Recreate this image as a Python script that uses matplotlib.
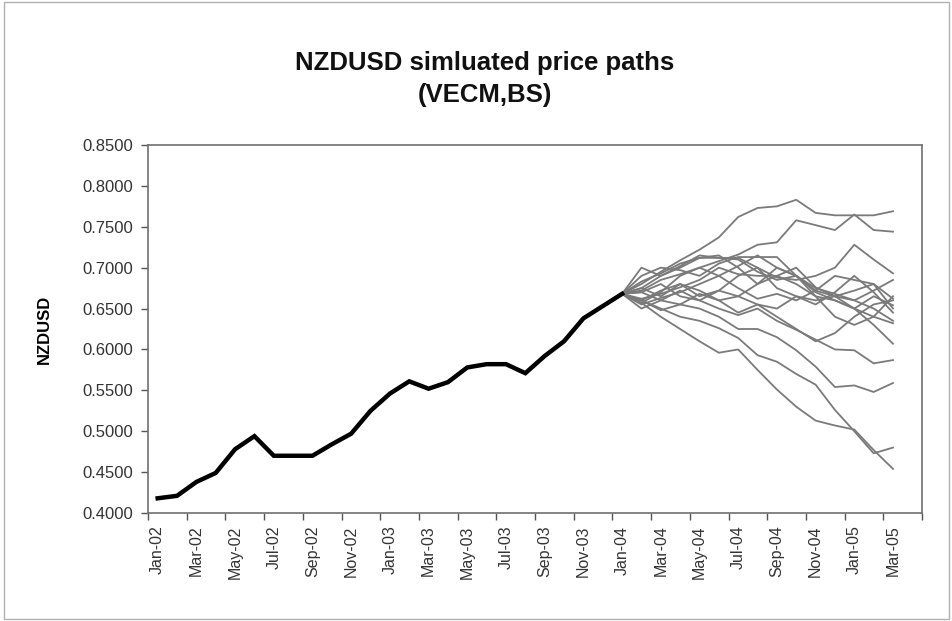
import numpy as np
import matplotlib
matplotlib.use("Agg")
import matplotlib.pyplot as plt
from matplotlib.patches import Rectangle

plt.rcParams['font.family'] = ['Liberation Sans', 'DejaVu Sans']

# month labels Jan-02 .. Apr-05 (last category is empty)
months = ['Jan', 'Feb', 'Mar', 'Apr', 'May', 'Jun', 'Jul', 'Aug', 'Sep', 'Oct', 'Nov', 'Dec']
categories = [m + '-' + y for y in ['02', '03', '04', '05'] for m in months][:40]

# actual NZDUSD, Jan-02 .. Jan-04
actual = [0.4180, 0.4210, 0.4380, 0.4490, 0.4780, 0.4940, 0.4700, 0.4700, 0.4700,
          0.4840, 0.4970, 0.5250, 0.5460, 0.5610, 0.5520, 0.5600, 0.5780, 0.5820,
          0.5820, 0.5710, 0.5920, 0.6100, 0.6380, 0.6530, 0.6680]

# simulated paths, Jan-04 .. Mar-05
sim_paths = [
    [0.668, 0.680, 0.695, 0.709, 0.722, 0.737, 0.762, 0.773, 0.775, 0.783, 0.767, 0.764, 0.764, 0.764, 0.769],
    [0.668, 0.672, 0.685, 0.692, 0.700, 0.708, 0.716, 0.728, 0.731, 0.758, 0.752, 0.746, 0.765, 0.746, 0.744],
    [0.668, 0.675, 0.690, 0.700, 0.712, 0.712, 0.712, 0.700, 0.688, 0.685, 0.690, 0.700, 0.728, 0.710, 0.693],
    [0.668, 0.690, 0.700, 0.697, 0.690, 0.705, 0.713, 0.713, 0.713, 0.690, 0.675, 0.668, 0.660, 0.672, 0.685],
    [0.668, 0.683, 0.693, 0.705, 0.712, 0.715, 0.700, 0.680, 0.690, 0.700, 0.676, 0.665, 0.660, 0.650, 0.635],
    [0.668, 0.660, 0.672, 0.680, 0.665, 0.672, 0.690, 0.700, 0.675, 0.665, 0.655, 0.670, 0.690, 0.670, 0.645],
    [0.668, 0.655, 0.663, 0.670, 0.680, 0.690, 0.675, 0.662, 0.668, 0.660, 0.672, 0.690, 0.685, 0.680, 0.662],
    [0.668, 0.670, 0.660, 0.655, 0.668, 0.660, 0.645, 0.655, 0.640, 0.625, 0.610, 0.620, 0.640, 0.655, 0.660],
    [0.668, 0.662, 0.668, 0.676, 0.685, 0.700, 0.692, 0.690, 0.690, 0.680, 0.665, 0.660, 0.650, 0.630, 0.607],
    [0.668, 0.650, 0.660, 0.672, 0.660, 0.650, 0.642, 0.650, 0.635, 0.624, 0.612, 0.600, 0.599, 0.583, 0.587],
    [0.668, 0.660, 0.648, 0.655, 0.650, 0.640, 0.625, 0.625, 0.615, 0.599, 0.579, 0.554, 0.556, 0.548, 0.559],
    [0.668, 0.657, 0.640, 0.625, 0.610, 0.596, 0.600, 0.575, 0.551, 0.530, 0.513, 0.507, 0.502, 0.477, 0.454],
    [0.668, 0.660, 0.650, 0.640, 0.635, 0.626, 0.614, 0.593, 0.585, 0.570, 0.557, 0.526, 0.500, 0.473, 0.480],
    [0.668, 0.700, 0.690, 0.702, 0.715, 0.712, 0.710, 0.695, 0.685, 0.690, 0.670, 0.660, 0.650, 0.665, 0.654],
    [0.668, 0.675, 0.665, 0.680, 0.672, 0.660, 0.665, 0.680, 0.700, 0.690, 0.665, 0.640, 0.630, 0.640, 0.665],
    [0.668, 0.670, 0.680, 0.665, 0.660, 0.672, 0.665, 0.655, 0.650, 0.665, 0.660, 0.665, 0.650, 0.640, 0.632],
    [0.668, 0.657, 0.670, 0.690, 0.700, 0.690, 0.702, 0.715, 0.700, 0.690, 0.672, 0.665, 0.672, 0.680, 0.650],
]

fig = plt.figure(figsize=(9.53, 6.21), dpi=100)
ax = fig.add_axes([0.1553, 0.1739, 0.8122, 0.5926])

# outer chart border
fig.patches.append(Rectangle((0.004, 0.004), 0.992, 0.992, transform=fig.transFigure,
                             fill=False, edgecolor='#b0b0b0', linewidth=1.0))

x_sim = np.arange(len(actual) - 1, len(actual) - 1 + len(sim_paths[0]))
for path in sim_paths:
    ax.plot(x_sim, path, color='#7a7a7a', linewidth=1.3, zorder=2)

ax.plot(np.arange(len(actual)), actual, color='black', linewidth=3.2,
        solid_joinstyle='miter', zorder=3)

ax.set_xlim(-0.5, len(categories) - 0.5)
ax.set_ylim(0.40, 0.85)
ax.set_yticks(np.arange(0.40, 0.851, 0.05))
ax.yaxis.set_major_formatter(matplotlib.ticker.FormatStrFormatter('%.4f'))

# labels every second month, tick marks on category boundaries
ax.set_xticks(np.arange(-0.5, len(categories), 2))
ax.set_xticklabels([])
ax.set_xticks(np.arange(0, len(categories) - 1, 2), minor=True)
ax.set_xticklabels(categories[0:len(categories) - 1:2], minor=True, rotation=90,
                   fontsize=11.5, color='#333333')
ax.tick_params(axis='x', which='minor', length=0, pad=9)
ax.tick_params(axis='x', which='major', length=5, width=1, color='#555555', direction='out')
ax.tick_params(axis='y', length=5, width=1, color='#555555', labelsize=12,
               labelcolor='#333333', pad=6)

for s in ax.spines.values():
    s.set_color('#707070')
    s.set_linewidth(1.2)

ax.set_ylabel('NZDUSD', fontsize=12, fontweight='bold', labelpad=22)
fig.text(0.509, 0.873, 'NZDUSD simluated price paths\n(VECM,BS)', ha='center', va='center',
         fontsize=18.5, fontweight='bold', linespacing=1.45, color='#111111')

fig.savefig('out.png', dpi=100)
